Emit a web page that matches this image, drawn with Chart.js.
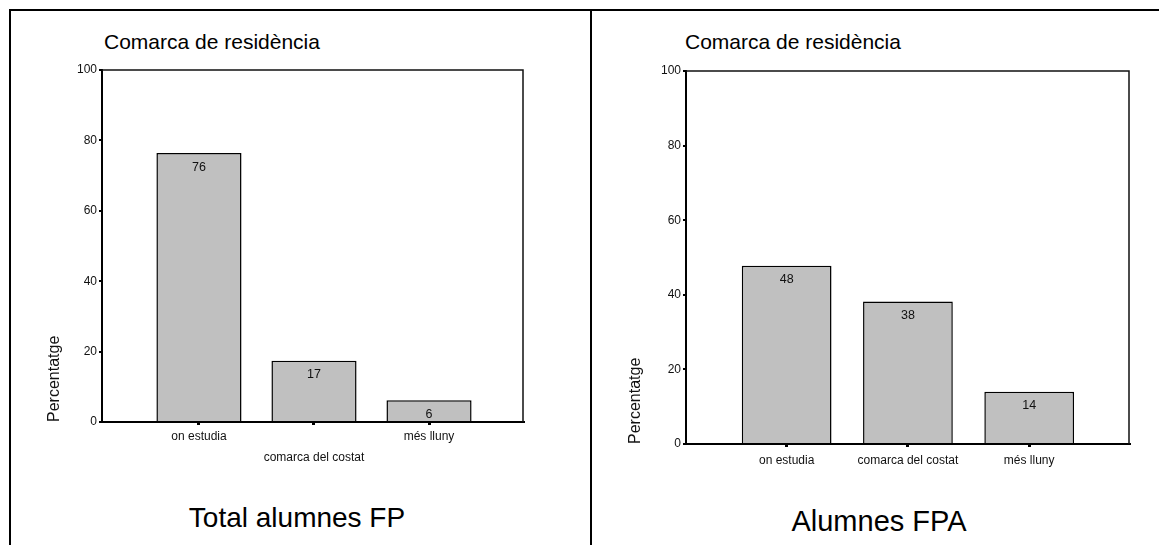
<!DOCTYPE html>
<html>
<head>
<meta charset="utf-8">
<script src="https://cdn.jsdelivr.net/npm/chart.js@4.4.1/dist/chart.umd.min.js"></script>
<style>
  html, body { margin: 0; padding: 0; background: #fff; }
  body { width: 1159px; height: 545px; position: relative; overflow: hidden; font-family: "Liberation Sans", Arial, sans-serif; color: #000; }
  canvas { position: absolute; left: 0; top: 0; }
  .rule { position: absolute; background: #000; }
  .title { position: absolute; font-size: 21px; line-height: 21px; white-space: nowrap; }
  .caption { position: absolute; font-size: 28px; line-height: 28px; white-space: nowrap; transform: translateX(-50%); }
</style>
</head>
<body>
<div class="rule" style="left:9px;top:9px;width:1150px;height:2px"></div>
<div class="rule" style="left:9px;top:9px;width:2px;height:536px"></div>
<div class="rule" style="left:590px;top:9px;width:2px;height:536px"></div>
<div class="title" style="left:104px;top:31px">Comarca de residència</div>
<div class="title" style="left:685px;top:31px">Comarca de residència</div>
<div class="caption" style="left:297px;top:504px">Total alumnes FP</div>
<div class="caption" style="left:879px;top:507px;font-size:29px">Alumnes FPA</div>
<canvas id="chartFP" width="1159" height="545"></canvas>
<canvas id="chartFPA" width="1159" height="545"></canvas>
<script>
const FONT = '"Liberation Sans", Arial, sans-serif';

// data (percentages)
const categories = ["on estudia", "comarca del costat", "més lluny"];
const totalFP = [76.4, 17.4, 6.2];
const alumnesFPA = [47.8, 38.2, 14.0];
const yTickValues = [0, 20, 40, 60, 80, 100];
// second row = label pushed down a line (as in the left chart)
const totalFPLabelRows = [0, 1, 0];
const alumnesFPALabelRows = [0, 0, 0];

// thin top/right edges of the plot box
const frame = {
  id: "frame",
  afterDraw(chart) {
    const { ctx, chartArea: a } = chart;
    ctx.save();
    ctx.strokeStyle = "#111";
    ctx.lineWidth = 1.5;
    ctx.beginPath();
    ctx.moveTo(a.left, a.top);
    ctx.lineTo(a.right, a.top);
    ctx.lineTo(a.right, a.bottom);
    ctx.stroke();
    ctx.restore();
  },
};

// value printed just inside the top of each bar
const barValues = {
  id: "barValues",
  afterDatasetsDraw(chart) {
    const { ctx } = chart;
    const ds = chart.data.datasets[0];
    ctx.save();
    ctx.font = "12.5px " + FONT;
    ctx.fillStyle = "#111";
    ctx.textAlign = "center";
    ctx.textBaseline = "middle";
    chart.getDatasetMeta(0).data.forEach((bar, i) => {
      ctx.fillText(String(Math.round(ds.data[i].y)), bar.x, bar.y + 14);
    });
    ctx.restore();
  },
};

function makeChart(id, values, labelRows, box) {
  return new Chart(document.getElementById(id), {
    type: "bar",
    data: {
      datasets: [{
        data: values.map((v, i) => ({ x: i, y: v })),
        backgroundColor: "#c0c0c0",
        borderColor: "#000",
        borderWidth: 1.5,
        barPercentage: 0.74,
        categoryPercentage: 1,
      }],
    },
    options: {
      responsive: false,
      animation: false,
      events: [],
      layout: { padding: box.padding },
      plugins: { legend: { display: false }, tooltip: { enabled: false } },
      scales: {
        x: {
          type: "linear",
          min: box.xMin,
          max: box.xMax,
          bounds: "data",
          offset: false,
          afterFit: (s) => { s.height = box.xHeight; },
          afterBuildTicks: (s) => { s.ticks = categories.map((c, i) => ({ value: i })); },
          ticks: {
            autoSkip: false,
            maxRotation: 0,
            padding: box.xPad,
            color: "#111",
            font: { family: FONT, size: 12, lineHeight: 1.75 },
            callback: (v) => (labelRows[v] ? ["", categories[v]] : categories[v]),
          },
          grid: { offset: false, drawOnChartArea: false, tickLength: 3, lineWidth: 3, tickColor: "#000" },
          border: { color: "#000", width: 2 },
        },
        y: {
          min: 0,
          max: 100,
          afterFit: (s) => { s.width = box.yWidth; },
          afterBuildTicks: (s) => { s.ticks = yTickValues.map((v) => ({ value: v })); },
          ticks: { padding: 2, color: "#111", font: { family: FONT, size: 12 } },
          grid: { drawOnChartArea: false, tickLength: 3, lineWidth: 2, tickColor: "#000" },
          border: { color: "#000", width: 2 },
          title: {
            display: true,
            text: "Percentatge",
            align: "start",
            padding: 0,
            color: "#111",
            font: { family: FONT, size: 16 },
          },
        },
      },
    },
    plugins: [frame, barValues],
  });
}

makeChart("chartFP", totalFP, totalFPLabelRows, {
  padding: { left: 45, top: 70, right: 636, bottom: 73 },
  yWidth: 57, xHeight: 50, xPad: 1.5,
  xMin: -0.843, xMax: 2.817,
});

makeChart("chartFPA", alumnesFPA, alumnesFPALabelRows, {
  padding: { left: 626, top: 71, right: 30, bottom: 51 },
  yWidth: 60, xHeight: 50, xPad: 3.5,
  xMin: -0.83, xMax: 2.823,
});
</script>
</body>
</html>
